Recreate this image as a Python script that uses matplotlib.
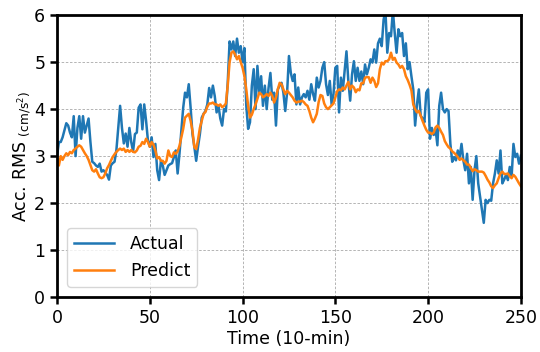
import numpy as np
import matplotlib
matplotlib.use("Agg")
import matplotlib.pyplot as plt

actual = [
    3.0, 3.3, 3.3, 3.4, 3.55, 3.7, 3.65, 3.5, 3.4, 3.85,
    3.0, 3.6, 3.85, 3.37, 3.85, 3.5, 3.65, 3.8, 3.3, 2.88,
    2.85, 2.8, 2.77, 2.84, 2.67, 2.7, 2.65, 2.6, 2.5, 2.8,
    2.85, 2.88, 3.13, 3.6, 4.07, 3.6, 3.27, 3.48, 3.2, 3.6,
    3.3, 3.1, 3.47, 3.5, 4.03, 4.1, 3.57, 4.1, 3.75, 3.33,
    3.2, 3.4, 2.98, 3.26, 2.7, 2.49, 2.9, 2.8, 2.6, 2.7,
    2.8, 2.83, 2.85, 2.98, 3.12, 2.63, 3.05, 3.54, 4.03, 4.35,
    4.25, 4.53, 4.03, 3.47, 3.2, 2.9, 3.2, 3.47, 3.82, 3.9,
    3.96, 4.1, 4.45, 4.25, 4.5, 4.28, 3.93, 4.07, 3.8, 3.65,
    4.0, 3.95, 4.56, 5.44, 5.27, 5.44, 5.13, 5.5, 5.2, 5.34,
    5.0, 5.3, 4.07, 3.58, 3.72, 4.5, 4.85, 4.0, 4.92, 4.35,
    4.7, 4.07, 4.5, 4.0, 4.45, 4.77, 4.2, 4.35, 3.65, 4.42,
    4.5, 4.56, 4.35, 3.96, 4.35, 5.13, 4.77, 4.6, 4.74, 4.1,
    4.46, 4.1, 4.25, 4.32, 4.25, 4.39, 4.2, 4.53, 4.32, 4.18,
    4.67, 4.46, 4.6, 4.88, 5.0, 4.53, 4.3, 4.6, 4.1, 4.32,
    4.88, 4.92, 3.93, 4.67, 4.39, 4.8, 5.23, 4.6, 4.18, 4.74,
    5.02, 4.6, 4.88, 4.6, 4.8, 4.53, 4.95, 4.74, 4.88, 5.06,
    4.99, 5.27, 4.99, 5.4, 5.5, 5.34, 5.9, 6.1, 5.2, 5.62,
    5.55, 6.1, 5.62, 5.2, 5.7, 5.55, 5.62, 5.13, 5.4, 4.85,
    5.0, 4.7, 4.42, 3.65, 4.1, 4.42, 3.86, 3.8, 3.72, 4.35,
    4.42, 3.37, 3.6, 3.45, 3.58, 3.23, 4.07, 4.35, 4.0, 3.93,
    4.0, 3.96, 3.26, 2.88, 2.98, 2.91, 3.12, 2.98, 3.26, 2.91,
    2.7, 3.05, 2.42, 2.77, 2.07, 2.7, 3.0, 2.42, 2.14, 1.86,
    1.58, 2.07, 2.0, 2.07, 2.05, 2.42, 2.63, 2.91, 2.63, 3.12,
    2.42, 2.5, 2.6, 2.49, 2.77, 2.56, 3.26, 2.98, 3.05, 2.84,
    3.01,
]

predict = [
    2.95, 2.8, 3.0, 2.92, 3.0, 3.06, 3.02, 3.09, 3.06, 3.13,
    3.16, 3.2, 3.23, 3.2, 3.13, 3.06, 3.0, 2.92, 2.81, 2.7,
    2.67, 2.72, 2.63, 2.55, 2.53, 2.55, 2.63, 2.74, 2.81, 2.9,
    2.98, 3.04, 3.09, 3.13, 3.16, 3.13, 3.16, 3.09, 3.13, 3.09,
    3.13, 3.09, 3.08, 3.12, 3.2, 3.22, 3.3, 3.26, 3.37, 3.3,
    3.2, 3.3, 3.24, 3.12, 2.95, 2.98, 2.9, 2.9, 2.84, 2.9,
    3.12, 3.0, 2.98, 3.08, 3.05, 3.1, 3.22, 3.4, 3.58, 3.82,
    3.86, 3.9, 3.75, 3.54, 3.19, 3.15, 3.35, 3.6, 3.75, 3.9,
    3.94, 4.05, 4.12, 4.12, 4.14, 4.1, 4.1, 4.07, 4.1, 4.04,
    4.07, 4.12, 4.5, 5.0, 5.2, 5.23, 5.16, 5.06, 5.13, 5.0,
    4.88, 4.7, 4.42, 4.07, 3.82, 3.88, 4.0, 4.1, 4.22, 4.35,
    4.32, 4.25, 4.28, 4.32, 4.28, 4.35, 4.28, 4.14, 4.25, 4.42,
    4.56, 4.53, 4.42, 4.32, 4.39, 4.35, 4.3, 4.25, 4.18, 4.14,
    4.16, 4.16, 4.18, 4.15, 4.1, 4.07, 3.96, 3.82, 3.72, 3.8,
    3.9, 4.15, 4.3, 4.28, 4.12, 4.04, 4.0, 4.04, 4.08, 4.12,
    4.25, 4.38, 4.42, 4.4, 4.46, 4.42, 4.5, 4.58, 4.42, 4.5,
    4.46, 4.36, 4.42, 4.4, 4.55, 4.55, 4.67, 4.68, 4.68, 4.56,
    4.67, 4.6, 4.47, 4.55, 4.85, 4.99, 4.95, 5.02, 5.02, 5.06,
    5.2, 5.05, 5.09, 4.99, 4.95, 4.88, 4.92, 4.85, 4.7, 4.62,
    4.52, 4.4, 4.1, 4.0, 3.93, 3.96, 3.86, 3.75, 3.65, 3.56,
    3.5, 3.5, 3.47, 3.5, 3.61, 3.65, 3.6, 3.52, 3.45, 3.32,
    3.25, 3.19, 3.16, 3.1, 3.07, 3.03, 2.98, 2.92, 2.95, 2.91,
    2.88, 2.82, 2.82, 2.75, 2.68, 2.72, 2.7, 2.67, 2.67, 2.67,
    2.65, 2.58, 2.5, 2.44, 2.36, 2.32, 2.38, 2.42, 2.53, 2.63,
    2.67, 2.62, 2.62, 2.63, 2.57, 2.53, 2.6, 2.56, 2.49, 2.42,
    2.36,
]

series_labels = ["Actual", "Predict"]
xticks = [0, 50, 100, 150, 200, 250]
yticks = [0, 1, 2, 3, 4, 5, 6]

fig = plt.figure(figsize=(5.4, 3.52), dpi=100)
ax = fig.add_axes([0.1056, 0.156, 0.859, 0.801])

ax.plot(np.arange(len(actual)), actual, color="#1f77b4", lw=1.8, label=series_labels[0])
ax.plot(np.arange(len(predict)), predict, color="#ff7f0e", lw=1.8, label=series_labels[1])

ax.set_xlim(0, 250)
ax.set_ylim(0, 6)
ax.set_xticks(xticks)
ax.set_yticks(yticks)
ax.grid(True, linestyle=(0, (3, 2)), color="#a8a8a8", linewidth=0.6)
for s in ax.spines.values():
    s.set_linewidth(2.0)
ax.tick_params(axis="both", labelsize=12.5, width=1.8, length=5)

ax.set_xlabel("Time (10-min)", fontsize=12.5, labelpad=2)
ax.set_ylabel(r"Acc. RMS $\mathregular{_{(cm/s^2)}}$", fontsize=12.5, labelpad=1)

leg = ax.legend(loc="lower left", fontsize=12.5, frameon=True, borderaxespad=0.6,
                handlelength=2.3, handletextpad=0.9)
leg.get_frame().set_edgecolor("#cccccc")
leg.get_frame().set_linewidth(1.0)

fig.savefig("out.png", dpi=100)
